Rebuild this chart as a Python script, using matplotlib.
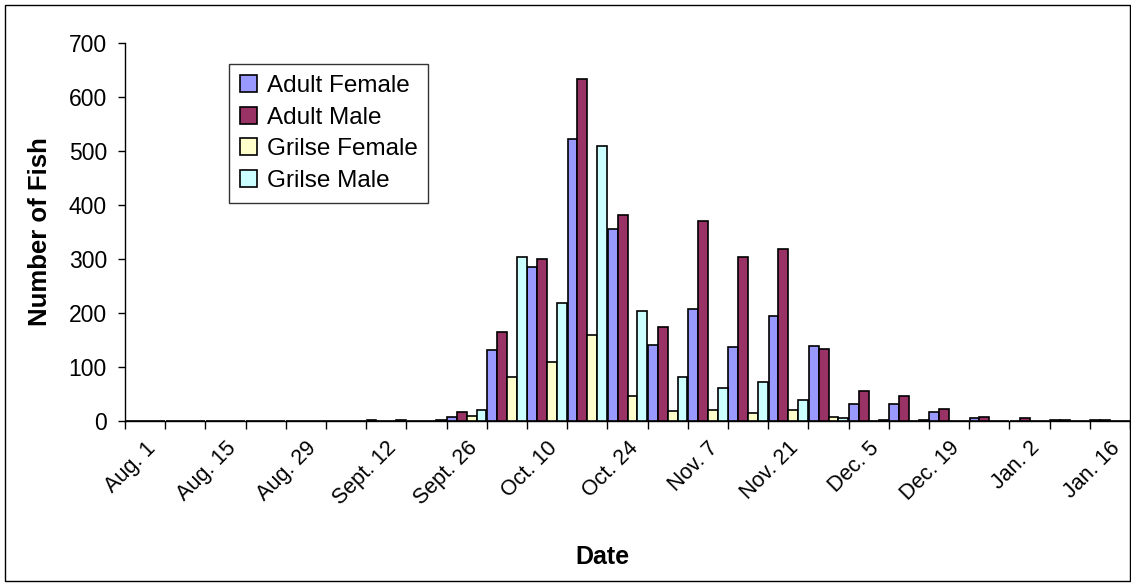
import matplotlib
matplotlib.use("Agg")
import matplotlib.pyplot as plt
from matplotlib.patches import Rectangle
import numpy as np

plt.rcParams['font.family'] = ['Liberation Sans', 'DejaVu Sans']

# weekly categories, Aug. 1 .. Jan. 16 (labels on every other week)
weeks = ["Aug. 1", "Aug. 8", "Aug. 15", "Aug. 22", "Aug. 29", "Sept. 5",
         "Sept. 12", "Sept. 19", "Sept. 26", "Oct. 3", "Oct. 10", "Oct. 17",
         "Oct. 24", "Oct. 31", "Nov. 7", "Nov. 14", "Nov. 21", "Nov. 28",
         "Dec. 5", "Dec. 12", "Dec. 19", "Dec. 26", "Jan. 2", "Jan. 9", "Jan. 16"]

adult_female = [0, 0, 0, 0, 0, 0, 2, 0, 7, 131, 286, 523, 356, 140, 208,
                137, 195, 139, 32, 32, 17, 5, 0, 2, 2]
adult_male = [0, 0, 0, 0, 0, 0, 0, 0, 16, 164, 300, 633, 382, 175, 371,
              303, 318, 134, 55, 47, 23, 8, 6, 2, 2]
grilse_female = [0, 0, 0, 0, 0, 0, 0, 0, 9, 81, 110, 160, 46, 18, 20,
                 14, 20, 8, 0, 0, 0, 0, 0, 0, 0]
grilse_male = [0, 0, 0, 0, 0, 0, 2, 2, 20, 303, 218, 510, 204, 81, 61,
               73, 38, 5, 2, 2, 0, 0, 0, 0, 0]

series = [("Adult Female", adult_female, "#9999FF"),
          ("Adult Male", adult_male, "#993366"),
          ("Grilse Female", grilse_female, "#FFFFCC"),
          ("Grilse Male", grilse_male, "#CCFFFF")]

fig = plt.figure(figsize=(11.31, 5.83), dpi=100)
ax = fig.add_axes([125/1131, 1-421/583, 1005/1131, 378/583])

x = np.arange(len(weeks))
w = 0.2445
for k, (name, vals, col) in enumerate(series):
    ax.bar(x + (k - 1.5) * w, vals, width=w, color=col,
           edgecolor="black", linewidth=1.2, label=name, zorder=3)

ax.set_xlim(-0.5, len(weeks) - 0.5)
ax.set_ylim(0, 700)
ax.set_yticks(range(0, 701, 100))

# labels centred on categories, ticks on category boundaries
ax.set_xticks(x[::2])
ax.set_xticklabels(weeks[::2], rotation=45, ha="right", rotation_mode="anchor")
ax.set_xticks(np.arange(len(weeks) + 1) - 0.5, minor=True)
ax.tick_params(axis="x", which="major", length=0, pad=12, labelsize=15.5)
ax.tick_params(axis="x", which="minor", length=6, width=1, direction="out")
ax.tick_params(axis="y", length=5, width=1, direction="out", labelsize=16.5, pad=8)

for s in ["top", "right"]:
    ax.spines[s].set_visible(False)
for s in ["left", "bottom"]:
    ax.spines[s].set_linewidth(1)
    ax.spines[s].set_color("black")

ax.set_ylabel("Number of Fish", fontsize=18.5, fontweight="bold", labelpad=12)
fig.text(602/1131, 1-557/583, "Date", fontsize=18, fontweight="bold",
         ha="center", va="center")

leg = ax.legend(loc="upper left", bbox_to_anchor=(229/1131, 1-64/583),
                bbox_transform=fig.transFigure, borderaxespad=0,
                fontsize=17.5, frameon=True, fancybox=False, shadow=False,
                handlelength=0.7, handleheight=0.7, handletextpad=0.4,
                labelspacing=0.4, borderpad=0.45)
leg.get_frame().set_edgecolor("black")
leg.get_frame().set_linewidth(1)

# outer chart border
fig.patches.append(Rectangle((5/1131, 2/583), 1125/1131, 576/583,
                             transform=fig.transFigure, fill=False,
                             edgecolor="black", linewidth=1))

fig.savefig("out.png", dpi=100)
